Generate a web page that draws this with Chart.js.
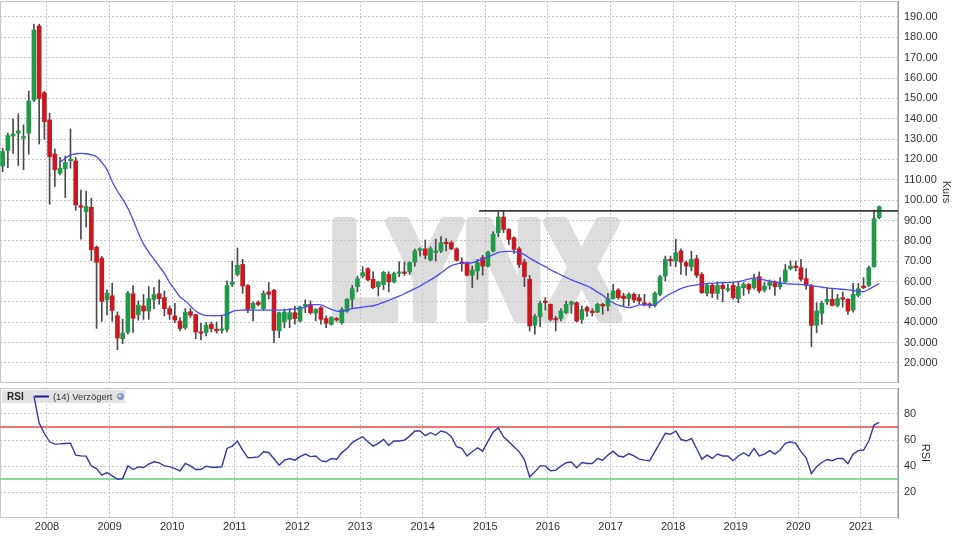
<!DOCTYPE html>
<html>
<head>
<meta charset="utf-8">
<script src="https://cdn.jsdelivr.net/npm/chart.js@4.4.1/dist/chart.umd.min.js"></script>
<style>
html,body{margin:0;padding:0;background:#fff;width:960px;height:540px;overflow:hidden;}
#main{position:absolute;left:0;top:0;}
#rsi{position:absolute;left:0;top:383px;}
</style>
</head>
<body>
<canvas id="main" width="960" height="384"></canvas>
<canvas id="rsi" width="960" height="157"></canvas>
<script>
// ---------- DATA ----------
const months = [
 '2007-04','2007-05','2007-06','2007-07','2007-08','2007-09','2007-10','2007-11','2007-12',
 '2008-01','2008-02','2008-03','2008-04','2008-05','2008-06','2008-07','2008-08','2008-09','2008-10','2008-11','2008-12',
 '2009-01','2009-02','2009-03','2009-04','2009-05','2009-06','2009-07','2009-08','2009-09','2009-10','2009-11','2009-12',
 '2010-01','2010-02','2010-03','2010-04','2010-05','2010-06','2010-07','2010-08','2010-09','2010-10','2010-11','2010-12',
 '2011-01','2011-02','2011-03','2011-04','2011-05','2011-06','2011-07','2011-08','2011-09','2011-10','2011-11','2011-12',
 '2012-01','2012-02','2012-03','2012-04','2012-05','2012-06','2012-07','2012-08','2012-09','2012-10','2012-11','2012-12',
 '2013-01','2013-02','2013-03','2013-04','2013-05','2013-06','2013-07','2013-08','2013-09','2013-10','2013-11','2013-12',
 '2014-01','2014-02','2014-03','2014-04','2014-05','2014-06','2014-07','2014-08','2014-09','2014-10','2014-11','2014-12',
 '2015-01','2015-02','2015-03','2015-04','2015-05','2015-06','2015-07','2015-08','2015-09','2015-10','2015-11','2015-12',
 '2016-01','2016-02','2016-03','2016-04','2016-05','2016-06','2016-07','2016-08','2016-09','2016-10','2016-11','2016-12',
 '2017-01','2017-02','2017-03','2017-04','2017-05','2017-06','2017-07','2017-08','2017-09','2017-10','2017-11','2017-12',
 '2018-01','2018-02','2018-03','2018-04','2018-05','2018-06','2018-07','2018-08','2018-09','2018-10','2018-11','2018-12',
 '2019-01','2019-02','2019-03','2019-04','2019-05','2019-06','2019-07','2019-08','2019-09','2019-10','2019-11','2019-12',
 '2020-01','2020-02','2020-03','2020-04','2020-05','2020-06','2020-07','2020-08','2020-09','2020-10','2020-11','2020-12',
 '2021-01','2021-02','2021-03','2021-04'
];

const open = [
 116.8,124.4,131.5,133,130.5,132.9,149.2,185.6,152.8,
 139.4,122.7,113.2,115.4,119.4,119.3,97.3,94.4,96.5,76.9,71.5,51,
 53,43.2,31.9,35,54,43.7,48,45.5,51.2,54,52.1,46.7,
 43.1,40.6,37.3,45.2,43.7,35.3,34.9,39,36.6,36,36.5,58.6,
 63.5,68.4,58.1,46.7,49.7,46.7,54.9,55.7,35.7,40.1,41.4,44.7,
 40.6,48,48.8,44.4,47.2,41.8,39,41.8,39.8,45.5,51.3,57.5,
 62.7,66.3,61.1,57.5,58.5,63.5,59.8,64,64.6,64.7,69.6,75.4,
 76.1,70.6,74.2,75,79.1,79.1,76.1,69.6,69.3,63.1,65.2,71.7,
 67.6,75,84,91.7,85.6,81.5,76.1,69.6,61.1,38.5,42.8,50.4,
 48.8,41.8,41.8,44.7,48.8,49.6,41.4,47.2,45.5,45,48.8,48,
 51.6,55.8,52.9,51.6,53.7,52,49.6,48.8,48.3,53.7,62.7,70.9,
 70.1,75,69.3,67.3,71.2,63.5,54.2,58.1,54.2,58.1,55.8,58.1,
 51.6,57,58.6,57,62.4,55.8,58.1,59.5,57.5,59.8,66.3,67.6,
 66.8,61.4,58.1,38.5,44.4,50,51.3,48.3,52.1,51.3,46,53.2,
 57.8,58.1,67.3,91.4
];
const high = [
 125.5,132.9,140,142.4,137,153.6,186.5,186.5,153.5,
 142.7,125.2,121,121.7,135,121,105,104.5,101,77.5,72.3,55.9,
 59.2,45.1,41.5,55.1,58,50.5,53.7,57.5,57,60.8,55.4,48,
 49.3,42.3,46.7,46.7,44,39.5,39.8,40.1,40.1,43.1,60.3,70,
 76.5,70.9,58.5,50,50.5,55.4,59.5,56.2,45,46.5,46.7,48,
 48,51,50.4,46.7,47.7,43.1,42.8,42.3,47.2,51.6,58.1,62.7,
 67.3,66.8,64.8,60,65,64.8,64.6,69.7,69.7,69.7,75.9,76.6,
 80.4,77.1,80.8,82.1,81.1,79.9,76.6,71.7,69.6,67.6,70.9,72.9,
 75,84.4,94.2,94.8,86,82,77,70.9,63,43.9,50.4,52.1,
 49,42.8,46.7,50.4,50.4,50,48,48,46.7,49.3,49.3,54.2,
 58.6,56.5,54.2,54.5,54.5,53.7,53.7,49.6,54.9,63,72.5,72.5,
 80.8,76.1,70.1,75,72.9,64.4,58.6,59.1,59.8,59.8,58.6,59.5,
 59.8,59.5,59.1,63.5,64.7,59.5,60.8,60.3,61.9,68.4,70.1,70.1,
 70.9,66.3,58.6,49.6,50.4,57,56.2,53.7,54.9,51.6,59.1,59.1,
 61.9,67.6,95.1,97.1
];
const low = [
 114,116,123,117,115,122.6,148.4,127.6,129.9,
 98,106.7,112.4,101.3,115.7,95,80.8,86.7,70.3,37,40.4,43.6,
 40.4,26.5,29.4,34.3,35,41,41.4,41.4,46.7,48.8,43.1,41.4,
 39.8,35.7,36.5,42.3,31.9,31.3,33.3,35.2,34.6,34.6,35.2,57.5,
 62.7,54.2,44.7,40.6,48,46,51.3,30,32.4,37.3,37.3,39,
 40.1,44.7,43.9,40.6,39,37.3,38.5,40.6,39,45,47.2,54.9,
 61.9,60.3,56.5,52.9,56,54.9,59.3,62.4,63,63.5,67.6,72.5,
 71.2,70.1,70.1,74.2,75,75.7,70.1,65.1,62.8,57,61.1,63.1,
 67,74.5,82.1,84,78.2,73.8,67,57.5,35.7,34.1,37.8,46,
 40.6,35.7,40.6,44.2,44.4,40.1,39.5,42.8,43.1,44.7,43.9,45.5,
 51.3,51.3,48,48,49.6,49,48,47.2,47.5,52.9,60.3,67.6,
 67.3,63.5,63.1,65.2,61.9,54.2,52.9,52.1,51.3,50,55,51.3,
 49.6,53.2,54.2,56.2,54.5,54.9,56.2,53.2,56.2,59.5,65.7,65.2,
 60.3,56.2,28,34.9,39,48.8,48,47.5,47.5,43.9,45,52.4,
 56.5,57.5,67,90.9
];
const close = [
 123.9,131.7,132.5,134,131,148.7,183.6,150,138.6,
 121.4,114.9,115.7,118.5,120,97.7,96.5,96.9,75.6,69.4,50.2,54.3,
 45.8,32.2,34.7,54.3,42,48.4,45.5,51.6,53.6,51.6,46.7,43.9,
 41.1,36.9,45,43.4,35.2,34.6,38.5,36.9,35.8,36.5,58.1,59.8,
 68,57.8,46.3,49.3,48.7,54.2,53.7,36,44.7,45,44.7,41.8,
 47.5,48.8,44.7,46.3,41.4,39.5,42.3,41.1,46.3,51.3,56.5,61.4,
 64.4,60.8,57,59.8,64.5,59.8,64,64.6,64,69.3,75,76.1,
 72.9,76.1,75,79.1,78.6,76.1,70.4,68.9,63.1,65.7,69.3,67.6,
 74.5,83.2,91.7,85.6,80.7,75.8,68.4,62.4,38.2,42.8,49.3,49.6,
 41.4,41.1,45.5,48.8,49.9,40.6,46.3,45.5,44.7,48.8,48,51.6,
 55.4,52.1,51.6,53.7,50.9,50.5,48.6,48.3,54.2,62.4,70.9,70.2,
 74.2,69.6,67.6,70.9,63.1,54.5,58.1,54.2,58.1,56.5,56.5,52.1,
 57.5,58.6,56.2,61.1,55.4,57.8,59.8,57.5,59.1,65.7,67.6,66.8,
 61.1,58.1,38.5,45.5,49.3,51.3,48.3,51.6,51.3,45.5,53.7,56.5,
 57,66.8,90.9,96.8
];
const movingAvg = [
 null,null,null,null,null,null,null,null,null,
 null,null,118.6,120.5,122.2,122.8,123,122.8,122.3,121.3,118.5,115,
 109,104.5,100.5,96,90.3,84,78.5,74.5,71,67.5,64,59.5,
 56,52.4,50.5,48,45.5,44,43.3,43.2,43.2,43.4,44,45.2,
 45.8,46,46,46,46,46,46,46,46,46,46.3,46.6,
 46.9,47.5,48.5,48.7,48.5,47.5,46.3,45.5,45.3,46,46.7,47,
 47.4,47.8,48.1,48.8,49.8,50.8,51.8,52.8,54,55.3,56.5,57.8,
 59.3,60.8,62.4,64.2,66.2,67.8,68.6,69,69.1,69.2,70.2,71.1,
 72.1,73.2,74.3,74.7,74.8,74.7,74.2,73.2,71.5,70,68.6,67.3,
 65.8,64.5,63.2,62,60.8,59.8,58.8,57.8,56.5,54.8,53.3,51.2,
 49.6,48.4,47.7,47.2,47.7,48.5,48.5,48.5,48.5,50.5,52.5,54,
 55.3,56.5,57.4,58,58.4,58.7,59,59.1,59.3,59.4,59.5,59.7,
 60,60.5,61.2,61.8,61.4,60.8,60.2,59.8,59.4,59,58.8,58.7,
 58.6,58.3,58,57.6,57.2,56.9,56.6,56.4,56.2,55.9,55.6,55.3,
 55,56.2,57.6,59
];
const rsi14 = [
 null,null,null,null,null,null,94,73,65,
 58.6,56.8,57,57.3,57.6,48.3,47.8,47.6,40,38,33,35,
 32.4,29.8,30.3,40.1,37.3,39.3,38.8,41.4,43.2,42.4,40.1,39.5,
 38,36.3,42,40.1,37.3,37.3,39.9,39,39,39.4,53.5,55.3,
 59.2,52.2,46.3,46.5,47,50.9,50.4,45.6,40.6,44.5,45.8,44.5,
 47.2,49.2,47.2,47.7,44.1,43.3,45.8,45.1,50.3,53.5,58,60.5,
 62.5,58.6,55.3,57.4,60.5,56,59.2,59.2,59.9,63,66.9,66.9,
 63.3,65.6,63.8,66.9,65.9,62.5,54.8,53.5,47.7,51,54,51.4,
 59,66,69.4,62.5,58.6,54.8,50.9,45,31.6,35.5,40.1,40.1,
 36.3,36.8,39.9,42.5,43,38.6,42.7,41.9,41.9,45.8,44.5,48.4,
 51.4,47.7,47,49.6,47.7,45.3,44.5,44.1,51,58,65.1,64.4,
 66.9,60.5,59.2,61.2,53.5,45.3,48.4,45.8,49.2,47.7,47.7,44.1,
 47.7,50.2,47.7,53.5,47.7,49.2,51.8,49.2,52.3,57.4,58.6,57.4,
 51,46.3,34.2,39.4,42.7,45,44.1,45.8,45.8,41.9,49.2,51.8,
 52.3,59.2,71.5,73.6
];
const priceTicks = [190,180,170,160,150,140,130,120,110,100,90,80,70,60,50,40,30,20];
const priceTickLabels = ['190.00','180.00','170.00','160.00','150.00','140.00','130.00','120.00','110.00','100.00','90.00','80.00','70.00','60.00','50.00','40.000','30.000','20.000'];
const yearTicks = [2008,2009,2010,2011,2012,2013,2014,2015,2016,2017,2018,2019,2020,2021];
const yearLabels = ['2008','2009','2010','2011','2012','2013','2014','2015','2016','2017','2018','2019','2020','2021'];
const rsiTicks = [20,40,60,80];
const rsiTickLabels = ['20','40','60','80'];
const resistanceLevel = 94.7;
const resistanceStart = 2014.9;
const rsiUpper = 70;
const rsiLower = 30;

// ---------- SETUP ----------
const X_MIN = 2007.2494, X_MAX = 2021.5914;
const GREEN = '#1f9a48', RED = '#c9181f', WICK = '#4a4a4a';
const GRID = '#c4c4c4';
const FONT = '"Liberation Sans", Arial, sans-serif';
Chart.defaults.font.family = FONT;
Chart.defaults.font.size = 11;
Chart.defaults.color = '#333';

function monthPos(label){ const p = label.split('-'); return Number(p[0]) + (Number(p[1]) - 0.5) / 12; }
const xs = months.map(monthPos);
const bodyData = xs.map((x,i)=>({x:x, y:[open[i], close[i]]}));
const wickData = xs.map((x,i)=>({x:x, y:[low[i], high[i]]}));
const bodyColors = close.map((c,i)=> c >= open[i] ? GREEN : RED);
const maData = xs.map((x,i)=> movingAvg[i]==null ? null : {x:x, y:movingAvg[i]}).filter(Boolean);
const rsiData = xs.map((x,i)=> rsi14[i]==null ? null : {x:x, y:rsi14[i]}).filter(Boolean);

const whiteBg = {
  id:'whiteBg',
  beforeDraw(chart){
    const ctx = chart.ctx; ctx.save(); ctx.fillStyle='#fff'; ctx.fillRect(0,0,chart.width,chart.height); ctx.restore();
  }
};
const watermark = {
  id:'watermark',
  beforeDraw(chart){
    const ctx = chart.ctx;
    ctx.save();
    const size = 140;
    const lw = 10;
    ctx.font = 'bold ' + size + 'px ' + FONT;
    ctx.fillStyle = '#dddddd';
    ctx.strokeStyle = '#dddddd';
    ctx.lineJoin = 'round';
    ctx.textBaseline = 'alphabetic';
    const w = ctx.measureText('LYNX').width;
    const inner = w - 0.085*size + lw;
    const sx = 289 / inner;
    ctx.translate(333 - (0.073*size - lw/2)*sx, 323 - lw/2);
    ctx.scale(sx, 1);
    ctx.lineWidth = lw;
    ctx.fillText('LYNX', 0, 0);
    ctx.strokeText('LYNX', 0, 0);
    ctx.restore();
  }
};
const frame = {
  id:'frame',
  beforeDatasetsDraw(chart){
    const ctx = chart.ctx, a = chart.chartArea;
    ctx.save(); ctx.strokeStyle = '#c8c8c8'; ctx.lineWidth = 1;
    ctx.strokeRect(a.left+0.5, a.top+0.5, a.right-a.left-1, a.bottom-a.top-1);
    ctx.restore();
  }
};
const rsiLegend = {
  id:'rsiLegend',
  beforeDatasetsDraw(chart){
    const ctx = chart.ctx;
    ctx.save();
    ctx.fillStyle = '#e2e2e2';
    ctx.fillRect(2, 7, 123, 13);
    ctx.textBaseline = 'middle';
    ctx.fillStyle = '#222';
    ctx.font = 'bold 10px ' + FONT;
    ctx.fillText('RSI', 7, 14);
    ctx.strokeStyle = '#1c1c8c'; ctx.lineWidth = 2;
    ctx.beginPath(); ctx.moveTo(35, 13.5); ctx.lineTo(49, 13.5); ctx.stroke();
    ctx.font = '9.4px ' + FONT;
    ctx.fillStyle = '#333';
    ctx.fillText('(14) Verzögert', 53, 14);
    const g = ctx.createRadialGradient(119.5, 12.5, 0.5, 120.5, 13.5, 3.5);
    g.addColorStop(0, '#cfe0f5'); g.addColorStop(1, '#4a74a8');
    ctx.fillStyle = g;
    ctx.beginPath(); ctx.arc(120.5, 13.5, 3.2, 0, Math.PI*2); ctx.fill();
    ctx.restore();
  }
};

const xGridCommon = {
  type:'linear', min:X_MIN, max:X_MAX, offset:false,
  grid:{offset:false, color:GRID, drawTicks:false, lineWidth:1},
  border:{display:false, dash:[2,2]},
  afterBuildTicks: s => { s.ticks = yearTicks.map(v=>({value:v})); }
};
function noVPad(s){ s.width = 62; s.paddingTop = 0; s.paddingBottom = 0; }

new Chart(document.getElementById('main'), {
  type:'bar',
  data:{
    datasets:[
      {type:'line', data:maData, borderColor:'#4a4af7', borderWidth:1.3, pointRadius:0, tension:0.3, order:0},
      {type:'line', data:[{x:resistanceStart, y:resistanceLevel},{x:X_MAX, y:resistanceLevel}], borderColor:'#3a3a3a', borderWidth:1.6, pointRadius:0, order:0},
      {type:'bar', data:bodyData, backgroundColor:bodyColors, barThickness:4, grouped:false, minBarLength:1.5, order:1},
      {type:'bar', data:wickData, backgroundColor:WICK, barThickness:1, grouped:false, order:2}
    ]
  },
  options:{
    responsive:false, animation:false, devicePixelRatio:1, events:[],
    layout:{padding:{top:1, bottom:1, left:0, right:0}},
    plugins:{legend:{display:false}, tooltip:{enabled:false}},
    scales:{
      x: Object.assign({}, xGridCommon, {ticks:{display:false},
        afterFit: s => { s.height = 0; s.paddingLeft = 0; s.paddingRight = 0; }}),
      y:{
        position:'right', min:10.14, max:197.86,
        grid:{color:GRID, drawTicks:false},
        border:{display:true, color:'#9a9a9a', width:1, dash:[2,2]},
        ticks:{padding:6, color:'#333', font:{size:11}, callback:(v)=>{const k=priceTicks.indexOf(v); return k<0?'':priceTickLabels[k];}},
        afterBuildTicks: s => { s.ticks = priceTicks.map(v=>({value:v})); },
        afterFit: noVPad,
        title:{display:true, text:'Kurs', color:'#333', font:{size:11}, padding:{top:7, bottom:0}}
      }
    }
  },
  plugins:[whiteBg, watermark, frame]
});

new Chart(document.getElementById('rsi'), {
  type:'line',
  data:{
    datasets:[
      {data:rsiData, borderColor:'#3636a8', borderWidth:1.4, pointRadius:0, tension:0, order:0},
      {data:[{x:X_MIN, y:rsiUpper},{x:X_MAX, y:rsiUpper}], borderColor:'#e5484b', borderWidth:1.5, pointRadius:0, order:1},
      {data:[{x:X_MIN, y:rsiLower},{x:X_MAX, y:rsiLower}], borderColor:'#63cc7f', borderWidth:1.5, pointRadius:0, order:1}
    ]
  },
  options:{
    responsive:false, animation:false, devicePixelRatio:1, events:[],
    layout:{padding:{top:5, bottom:0, left:0, right:0}},
    plugins:{legend:{display:false}, tooltip:{enabled:false}},
    scales:{
      x: Object.assign({}, xGridCommon, {
        ticks:{display:true, padding:2, color:'#333', font:{size:11}, autoSkip:false, maxRotation:0,
          callback:(v)=>{const k=yearTicks.indexOf(v); return k<0?'':yearLabels[k];}},
        afterFit: s => { s.height = 22; s.paddingLeft = 0; s.paddingRight = 0; }
      }),
      y:{
        position:'right', min:0, max:100,
        grid:{color:GRID, drawTicks:false},
        border:{display:true, color:'#9a9a9a', width:1, dash:[2,2]},
        ticks:{padding:6, color:'#333', font:{size:11}, callback:(v)=>{const k=rsiTicks.indexOf(v); return k<0?'':rsiTickLabels[k];}},
        afterBuildTicks: s => { s.ticks = rsiTicks.map(v=>({value:v})); },
        afterFit: noVPad,
        title:{display:true, text:'RSI', color:'#333', font:{size:11}, padding:{top:28, bottom:0}}
      }
    }
  },
  plugins:[whiteBg, frame, rsiLegend]
});
</script>
</body>
</html>
